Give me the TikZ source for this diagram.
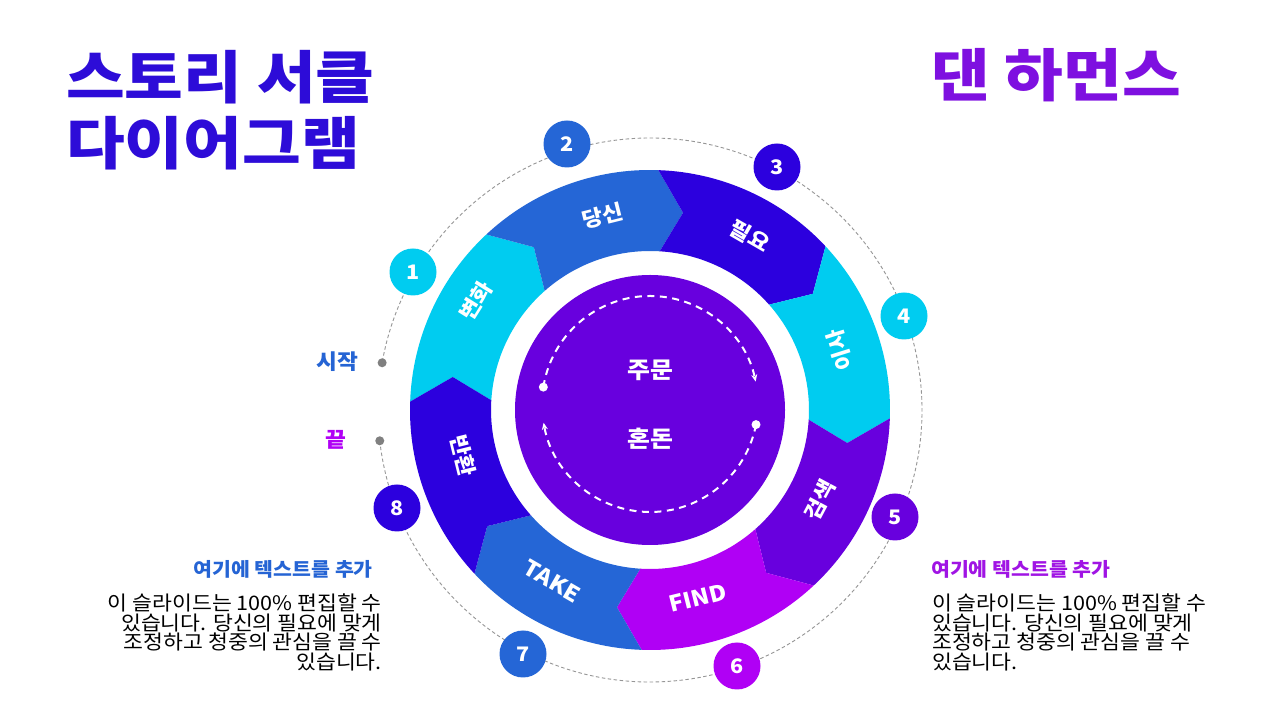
\documentclass[tikz,border=0pt]{standalone}
\usepackage{fontspec}
\setmainfont{Noto Sans CJK KR}[FakeStretch=1.08]
\newfontfamily\titlefont{Noto Sans CJK KR}[FakeStretch=1.12]
\usetikzlibrary{arrows.meta}
\definecolor{ccyan}{RGB}{0,204,240}
\definecolor{cblue}{RGB}{37,102,214}
\definecolor{cindigo}{RGB}{44,0,222}
\definecolor{cpurple}{RGB}{104,0,222}
\definecolor{cmag}{RGB}{176,0,245}
\definecolor{cinner}{RGB}{104,0,222}
\definecolor{ctitle}{RGB}{45,12,216}
\definecolor{cdan}{RGB}{126,16,224}
\definecolor{cheadl}{RGB}{37,100,212}
\definecolor{cheadr}{RGB}{160,20,228}
\definecolor{cdash}{RGB}{150,150,150}
\definecolor{cdot}{RGB}{128,128,128}
\begin{document}
\begin{tikzpicture}[x=1pt,y=1pt,
  seglabel/.style={text=white, inner sep=0pt, font=\bfseries\fontsize{21}{21}\selectfont},
  numcirc/.style={circle, minimum size=47pt, inner sep=0pt, text=white, font=\bfseries\fontsize{20}{20}\selectfont},
  titletext/.style={inner sep=0pt, font=\titlefont\bfseries\fontsize{57}{57}\selectfont},
  headtext/.style={inner sep=0pt, font=\bfseries\fontsize{19}{19}\selectfont},
  bodytext/.style={inner sep=0pt, text=black, font=\fontsize{20}{19.5}\selectfont},
  sidetext/.style={inner sep=0pt, font=\bfseries\fontsize{21}{21}\selectfont},
  coretext/.style={inner sep=0pt, text=white, font=\bfseries\fontsize{23}{23}\selectfont},
  innerarc/.style={white, line width=2pt, dash pattern=on 7pt off 5.5pt, -{Stealth[length=7pt,width=6pt]}}
]
\useasboundingbox (0,0) rectangle (1280,720);
\fill[white] (0,0) rectangle (1280,720);
\coordinate (O) at (650,310);
\coordinate (I) at (650,316);

% outer dashed circle with gap between start and end
\draw[cdash, line width=0.9pt, dash pattern=on 3.5pt off 2.5pt]
  ([shift={(186.5:272pt)}]O) arc[start angle=186.5, end angle=530, radius=272pt];
\coordinate (startdot) at ([shift={(170:272pt)}]O);
\coordinate (enddot) at ([shift={(186.5:272pt)}]O);
\fill[cdot] (startdot) circle[radius=4.5pt];
\fill[cdot] (enddot) circle[radius=4.5pt];
\node[sidetext, text=cheadl] (startlbl) at (337,358) {시작};
\node[sidetext, text=cmag] (endlbl) at (336,280) {끝};

% ring segments (chevrons)
\foreach \a/\col in {178/ccyan,133/cblue,88/cindigo,43/ccyan,-2/cpurple,-47/cmag,-92/cblue,-137/cindigo}{
  \pgfmathsetmacro\b{\a-45}
  \pgfmathsetmacro\bt{\a-52.5}
  \pgfmathsetmacro\bi{\a-46.5}
  \pgfmathsetmacro\ai{\a-1.5}
  \pgfmathsetmacro\at{\a-7.5}
  \fill[\col] ([shift={(\a:240pt)}]O) arc[start angle=\a, end angle=\b, radius=240pt]
    -- ([shift={(\bt:200pt)}]O) -- ([shift={(\bi:159pt)}]O)
    arc[start angle=\bi, end angle=\ai, radius=159pt]
    -- ([shift={(\at:200pt)}]O) -- cycle;
}

% centre
\node[circle, fill=cinner, minimum size=270pt, inner sep=0pt] (core) at (O) {};
\coordinate (d1) at ([shift={(171:108pt)}]I);
\coordinate (d2) at ([shift={(-11:108pt)}]I);
\draw[innerarc] (d1) arc[start angle=171, end angle=12, radius=108pt];
\draw[innerarc] (d2) arc[start angle=-11, end angle=-170, radius=108pt];
\fill[white] (d1) circle[radius=4.5pt];
\fill[white] (d2) circle[radius=4.5pt];
\node[coretext] (order) at (650,350) {주문};
\node[coretext] (chaos) at (650,281) {혼돈};

% segment labels
\node[seglabel, rotate=58] (l1) at (476,419) {변화};
\node[seglabel, rotate=14] (l2) at (603,504) {당신};
\node[seglabel, rotate=-30] (l3) at (750,484) {필요};
\node[seglabel, rotate=107.5] (l4) at (840,370) {이사};
\node[seglabel, rotate=62] (l5) at (820,220) {검색};
\node[seglabel, rotate=14, font=\bfseries\fontsize{22}{22}\selectfont] (l6) at (698,122) {FIND};
\node[seglabel, rotate=-30, font=\bfseries\fontsize{22}{22}\selectfont] (l7) at (552,139) {TAKE};
\node[seglabel, rotate=-76] (l8) at (463,264) {반환};

% number circles
\node[numcirc, fill=ccyan] (n1) at (413,448) {1};
\node[numcirc, fill=cblue] (n2) at (567,576) {2};
\node[numcirc, fill=cindigo] (n3) at (777,553) {3};
\node[numcirc, fill=ccyan] (n4) at (904,404) {4};
\node[numcirc, fill=cpurple] (n5) at (895,203) {5};
\node[numcirc, fill=cmag] (n6) at (737,54) {6};
\node[numcirc, fill=cblue] (n7) at (523,66) {7};
\node[numcirc, fill=cindigo] (n8) at (397,212) {8};

% titles
\node[titletext, text=ctitle, anchor=west] (t1) at (66,643) {스토리 서클};
\node[titletext, text=ctitle, anchor=west] (t2) at (66,577) {다이어그램};
\node[titletext, text=cdan, anchor=west] (t3) at (931,645) {댄 하먼스};

% text blocks
\node[headtext, text=cheadl, anchor=east] (hl) at (373,151) {여기에 텍스트를 추가};
\node[bodytext, anchor=north east, align=right] (bl) at (382,126)
  {이 슬라이드는 100\% 편집할 수\\있습니다. 당신의 필요에 맞게\\조정하고 청중의 관심을 끌 수\\있습니다.};
\node[headtext, text=cheadr, anchor=west] (hr) at (931,151) {여기에 텍스트를 추가};
\node[bodytext, anchor=north west, align=left] (br) at (932,126)
  {이 슬라이드는 100\% 편집할 수\\있습니다. 당신의 필요에 맞게\\조정하고 청중의 관심을 끌 수\\있습니다.};
\end{tikzpicture}
\end{document}
